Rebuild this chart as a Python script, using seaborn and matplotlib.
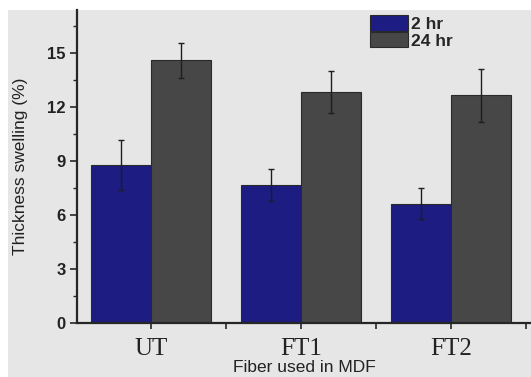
import pandas as pd
import matplotlib
matplotlib.use("Agg")
import matplotlib.pyplot as plt
import seaborn as sns
from matplotlib.ticker import MultipleLocator

# Data
fibers = ["UT", "FT1", "FT2"]
swell_2hr = [8.8, 7.65, 6.63]
swell_24hr = [14.6, 12.85, 12.65]
err_2hr = [1.4, 0.9, 0.87]
err_24hr = [0.95, 1.17, 1.45]
times = ["2 hr", "24 hr"]

df = pd.DataFrame({
    "Fiber": fibers * 2,
    "Time": [times[0]] * 3 + [times[1]] * 3,
    "Swelling": swell_2hr + swell_24hr,
})

sns.set_style("ticks")
plt.rcParams["font.family"] = ["Liberation Sans", "DejaVu Sans"]

bg = "#e6e6e6"
fig = plt.figure(figsize=(5.31, 3.77), dpi=100, facecolor="white")
# grey photo-like background with a white strip on top and left
fig.patches.append(plt.Rectangle((8 / 531, 0), 1, 1 - 10 / 377, transform=fig.transFigure,
                                 facecolor=bg, edgecolor="none", zorder=-10))
ax = fig.add_axes([0.145, 0.144, 0.855, 0.829])
ax.set_facecolor(bg)

sns.barplot(data=df, x="Fiber", y="Swelling", hue="Time", order=fibers, hue_order=times,
            palette=["#1c1c82", "#474747"], saturation=1, width=0.8, errorbar=None,
            edgecolor="#2a2a2a", linewidth=0.8, ax=ax)

# error bars at bar centres
errs = err_2hr + err_24hr
for patch, e in zip(ax.patches[:6], errs):
    xc = patch.get_x() + patch.get_width() / 2
    ax.errorbar(xc, patch.get_height(), yerr=e, fmt="none", ecolor="#1e1e1e",
                elinewidth=1.0, capsize=2.5, capthick=1.0, zorder=5)

ax.set_xlim(-0.49, 2.53)
ax.set_ylim(0, 17.4)
ax.yaxis.set_major_locator(MultipleLocator(3))
ax.yaxis.set_minor_locator(MultipleLocator(1.5))
ax.xaxis.set_minor_locator(MultipleLocator(0.5))
ax.tick_params(axis="y", which="major", length=5, width=1.2, labelsize=12, pad=3)
ax.tick_params(axis="y", which="minor", length=3, width=1.0)
ax.tick_params(axis="x", which="both", length=4, width=1.2, pad=7)
for lbl in ax.get_yticklabels():
    lbl.set_fontweight("bold")
    lbl.set_color("#222222")
ax.set_xticks(range(3))
ax.set_xticklabels(fibers, family="Liberation Serif", fontsize=18, color="#222222")

sns.despine(ax=ax)
ax.spines["left"].set_linewidth(1.6)
ax.spines["bottom"].set_linewidth(1.6)

ax.set_xlabel("Fiber used in MDF", fontsize=12.5, color="#222222", labelpad=0)
ax.set_ylabel("Thickness swelling (%)", fontsize=12.5, color="#222222", labelpad=14)

leg = ax.legend(loc="upper left", bbox_to_anchor=(0.645, 0.984), frameon=False,
                handlelength=2.2, handleheight=1.0, handletextpad=0.2,
                labelspacing=0.0, borderpad=0.0, borderaxespad=0.0,
                prop={"weight": "bold", "size": 12.5})
leg.set_title(None)

fig.savefig("out.png", dpi=100, facecolor=fig.get_facecolor())
